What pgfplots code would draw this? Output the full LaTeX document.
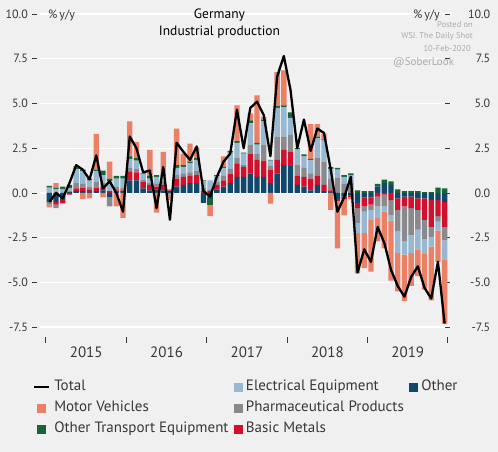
\documentclass[border=0pt]{standalone}
\usepackage{fontspec}
\setmainfont{PT Sans}
\usepackage{pgfplots}
\usepackage{pgfplotstable}
\pgfplotsset{compat=1.18}
\definecolor{bg}{RGB}{240,240,240}
\definecolor{cOth}{RGB}{16,72,107}
\definecolor{cMet}{RGB}{208,16,44}
\definecolor{cPha}{RGB}{138,138,142}
\definecolor{cEle}{RGB}{152,184,210}
\definecolor{cOtr}{RGB}{22,100,56}
\definecolor{cMot}{RGB}{234,128,102}
\definecolor{txt}{RGB}{55,55,55}
\definecolor{wm}{RGB}{170,170,170}

\pgfplotstableread{
m oth met pha ele otr mot tot
0 -0.45 -0.05 -0.15 0.30 0.10 -0.15 -0.50
1 -0.50 -0.15 -0.20 0.20 0.10 0.25 0.00
2 -0.35 -0.20 -0.05 0.20 0.15 0.00 -0.30
3 0.05 -0.10 0.05 0.15 0.20 0.00 0.55
4 0.10 0.15 0.30 0.80 0.05 0.10 1.55
5 0.10 0.20 0.20 0.70 0.10 -0.35 1.30
6 0.05 0.15 0.15 0.35 0.10 -0.30 0.75
7 0.10 0.20 0.30 0.60 0.10 2.00 2.10
8 0.15 0.20 0.20 0.45 0.25 -0.25 0.25
9 -0.25 0.10 -0.50 0.55 0.15 0.95 0.65
10 0.05 0.10 0.20 0.45 0.15 -0.75 0.00
11 0.10 0.05 0.15 0.50 0.15 -1.40 -1.05
12 0.70 0.50 0.20 0.50 0.15 1.95 3.15
13 0.70 0.45 0.20 0.45 0.15 0.90 2.50
14 0.25 0.35 0.15 0.30 0.05 0.00 1.15
15 0.15 0.30 0.10 0.25 0.15 1.45 1.25
16 0.20 0.15 0.15 0.40 0.10 -1.10 -0.85
17 0.15 0.30 0.20 0.30 0.05 1.30 1.45
18 0.10 0.05 -0.10 0.05 0.02 -0.30 -1.50
19 0.35 0.45 0.20 0.40 0.15 2.05 2.80
20 0.45 0.45 0.20 0.35 0.10 0.65 2.30
21 0.55 0.40 0.20 0.50 0.10 1.00 1.85
22 0.55 0.45 0.25 0.60 0.10 0.60 2.60
23 -0.55 0.10 0.20 0.35 0.05 0.00 0.10
24 -0.30 0.10 0.10 0.50 -0.35 -0.65 -0.20
25 0.20 0.25 0.15 0.35 0.05 0.00 0.90
26 0.35 0.35 0.25 0.45 0.05 0.60 1.75
27 0.55 0.50 0.30 0.90 0.10 0.00 2.20
28 0.90 0.75 0.30 0.85 0.10 2.00 4.65
29 0.90 0.55 0.10 0.65 0.05 0.00 2.50
30 1.10 1.10 0.50 1.20 0.15 0.40 4.75
31 0.90 0.95 0.35 0.50 0.10 2.65 5.10
32 0.90 0.90 0.90 1.30 0.10 0.15 4.35
33 0.55 0.75 0.20 0.30 0.05 -0.60 2.05
34 1.10 0.75 1.30 1.60 0.10 1.90 6.50
35 1.55 0.85 0.75 1.65 0.10 1.95 7.65
36 1.50 0.80 0.95 0.95 0.30 0.00 5.75
37 0.45 0.50 0.60 0.90 0.05 0.00 2.50
38 0.35 0.55 0.50 0.65 0.10 0.00 4.10
39 0.15 0.65 0.30 0.75 0.05 1.95 2.35
40 0.45 0.50 1.00 1.10 0.10 0.70 3.60
41 0.10 0.35 1.30 1.20 0.05 0.30 3.35
42 0.05 0.10 0.65 0.55 0.10 -0.95 1.30
43 -0.35 -0.10 0.85 0.45 0.10 -2.65 -1.05
44 -0.20 -0.15 0.50 0.40 0.10 -0.90 -0.25
45 -0.15 -0.10 0.55 0.45 0.10 -0.10 0.90
46 -0.55 -0.30 -0.85 -0.55 0.15 -2.25 -4.45
47 -0.25 -0.50 -0.30 -1.20 0.10 -1.95 -3.15
48 -0.25 -0.40 -0.30 -0.55 0.10 -2.90 -3.85
49 0.35 -0.20 -0.55 -0.65 0.15 -1.30 -1.90
50 0.55 -0.10 -0.65 -0.30 0.20 -2.05 -2.80
51 0.45 -0.40 -0.85 -0.30 0.20 -3.35 -4.30
52 -0.30 -0.65 -1.20 -1.20 0.20 -2.15 -5.20
53 -0.20 -0.55 -1.95 -0.75 0.10 -2.60 -5.80
54 -0.20 -0.65 -1.50 -1.00 0.10 -1.85 -4.70
55 -0.30 -0.65 -1.10 -1.10 0.10 -1.50 -4.10
56 -0.30 -1.20 -1.10 -0.80 0.05 -2.00 -5.30
57 -0.40 -1.50 -0.55 -0.55 0.05 -3.00 -5.90
58 -0.40 -0.90 -0.30 -0.50 0.30 -1.75 -3.85
59 -0.50 -1.40 -0.75 -1.10 0.25 -3.55 -7.30
}\data

\newcommand\ltick[1]{#1\hspace{4pt}\textcolor{txt}{\rule[0.3em]{5pt}{0.9pt}}}
\newcommand\rtick[1]{\textcolor{txt}{\rule[0.3em]{5pt}{0.9pt}}\makebox[40pt][r]{#1}}

\pgfplotsset{
  base/.style={
    at={(40pt,115pt)}, anchor=south west,
    scale only axis, width=412pt, height=329pt,
    xmin=-1.395, xmax=60.1, ymin=-8.05, ymax=10.335,
    axis line style={draw=none},
    ytick={-7.5,-5,-2.5,0,2.5,5,7.5,10},
    ytick style={draw=none},
    tick label style={text=txt},
  },
}

\begin{document}
\begin{tikzpicture}
\fill[bg] (0pt,0pt) rectangle (498pt,452pt);

% positive parts
\begin{axis}[base,
  major tick length=0pt,
  ybar stacked, bar width=0.8,
  ymajorgrids, grid style={white, line width=1.4pt},
  ytick pos=left,
  yticklabels={\ltick{-7.5},\ltick{-5.0},\ltick{-2.5},\ltick{0.0},\ltick{2.5},\ltick{5.0},\ltick{7.5},\ltick{10.0}},
  yticklabel style={anchor=east, inner sep=0pt, xshift=-3pt, font=\fontsize{12}{14}\selectfont},
  xtick={5.5,17.5,29.5,41.5,53.5},
  xticklabels={2015,2016,2017,2018,2019},
  xtick style={draw=none}, xtick pos=bottom,
  xticklabel style={anchor=north, inner sep=0pt, yshift=-9.5pt, font=\fontsize{15}{17}\selectfont},
]
\addplot[fill=cOth, draw=none] table[x=m, y expr={max(\thisrow{oth},0)}] {\data};
\addplot[fill=cMet, draw=none] table[x=m, y expr={max(\thisrow{met},0)}] {\data};
\addplot[fill=cPha, draw=none] table[x=m, y expr={max(\thisrow{pha},0)}] {\data};
\addplot[fill=cEle, draw=none] table[x=m, y expr={max(\thisrow{ele},0)}] {\data};
\addplot[fill=cOtr, draw=none] table[x=m, y expr={max(\thisrow{otr},0)}] {\data};
\addplot[fill=cMot, draw=none] table[x=m, y expr={max(\thisrow{mot},0)}] {\data};
\end{axis}

% negative parts
\begin{axis}[base,
  major tick length=6pt,
  ybar stacked, bar width=0.8,
  ytick pos=right, yticklabel pos=right,
  yticklabels={\rtick{-7.5},\rtick{-5.0},\rtick{-2.5},\rtick{0.0},\rtick{2.5},\rtick{5.0},\rtick{7.5},\rtick{10.0}},
  yticklabel style={anchor=west, inner sep=0pt, xshift=-7pt, font=\fontsize{12}{14}\selectfont},
  xtick={-0.5,11.5,23.5,35.5,47.5,59.5},
  xticklabels={},
  xtick pos=bottom, xtick align=outside,
  xtick style={draw=txt, line width=1pt},
]
\addplot[fill=cOth, draw=none] table[x=m, y expr={min(\thisrow{oth},0)}] {\data};
\addplot[fill=cMet, draw=none] table[x=m, y expr={min(\thisrow{met},0)}] {\data};
\addplot[fill=cPha, draw=none] table[x=m, y expr={min(\thisrow{pha},0)}] {\data};
\addplot[fill=cEle, draw=none] table[x=m, y expr={min(\thisrow{ele},0)}] {\data};
\addplot[fill=cOtr, draw=none] table[x=m, y expr={min(\thisrow{otr},0)}] {\data};
\addplot[fill=cMot, draw=none] table[x=m, y expr={min(\thisrow{mot},0)}] {\data};
\end{axis}

% total line and legend
\begin{axis}[base, hide axis,
  legend columns=3,
  legend cell align=left,
  legend style={at={(axis description cs:-0.017,-0.128)}, anchor=north west,
    draw=none, fill=none, inner sep=0pt, outer sep=0pt,
    font=\fontsize{15}{17}\selectfont, text=txt,
    nodes={inner xsep=4pt, inner ysep=1pt, text height=10.5pt, text depth=3pt},
    row sep=5.5pt,
    /tikz/every even column/.append style={column sep=1pt}},
]
\addplot[black, line width=2.3pt, line join=round,
  legend image code/.code={\draw[black, line width=2.3pt] (0pt,0pt) -- (15pt,0pt);}]
  table[x=m, y=tot] {\data};
\addlegendentry{Total}
\addlegendimage{legend image code/.code={\fill[cEle] (0pt,-4pt) rectangle (8pt,4pt);}}
\addlegendentry{Electrical Equipment}
\addlegendimage{legend image code/.code={\fill[cOth] (0pt,-4pt) rectangle (8pt,4pt);}}
\addlegendentry{Other}
\addlegendimage{legend image code/.code={\fill[cMot] (3.5pt,-4pt) rectangle (11.5pt,4pt);}}
\addlegendentry{Motor Vehicles}
\addlegendimage{legend image code/.code={\fill[cPha] (0pt,-4pt) rectangle (8pt,4pt);}}
\addlegendentry{Pharmaceutical Products}
\addlegendimage{empty legend}
\addlegendentry{}
\addlegendimage{legend image code/.code={\fill[cOtr] (3.5pt,-4pt) rectangle (11.5pt,4pt);}}
\addlegendentry{Other Transport Equipment}
\addlegendimage{legend image code/.code={\fill[cMet] (0pt,-4pt) rectangle (8pt,4pt);}}
\addlegendentry{Basic Metals}
\end{axis}

% titles and annotations
\node[anchor=center, text=black, font=\fontsize{13.5}{16}\selectfont] at (219.5pt,437pt) {Germany};
\node[anchor=center, text=black, font=\fontsize{13.5}{16}\selectfont] at (219.5pt,420pt) {Industrial production};
\node[anchor=west, inner sep=0pt, text=txt, font=\fontsize{12}{14}\selectfont] at (48pt,437pt) {\%\,y/y};
\node[anchor=east, inner sep=0pt, text=txt, font=\fontsize{12}{14}\selectfont] at (440pt,437pt) {\%\,y/y};
\node[anchor=east, inner sep=0pt, text=wm, font=\fontsize{8.5}{10}\selectfont] at (473pt,427pt) {Posted on};
\node[anchor=east, inner sep=0pt, text=wm, font=\fontsize{8.5}{10}\selectfont] at (473pt,416pt) {WSJ. The Daily Shot};
\node[anchor=east, inner sep=0pt, text=wm, font=\fontsize{8.5}{10}\selectfont] at (471pt,403pt) {10-Feb-2020};
\node[anchor=west, inner sep=0pt, text=wm, font=\fontsize{11}{13}\selectfont] at (393pt,389pt) {@SoberLook};

\pgfresetboundingbox
\path (0pt,0pt) rectangle (498pt,452pt);
\end{tikzpicture}
\end{document}
